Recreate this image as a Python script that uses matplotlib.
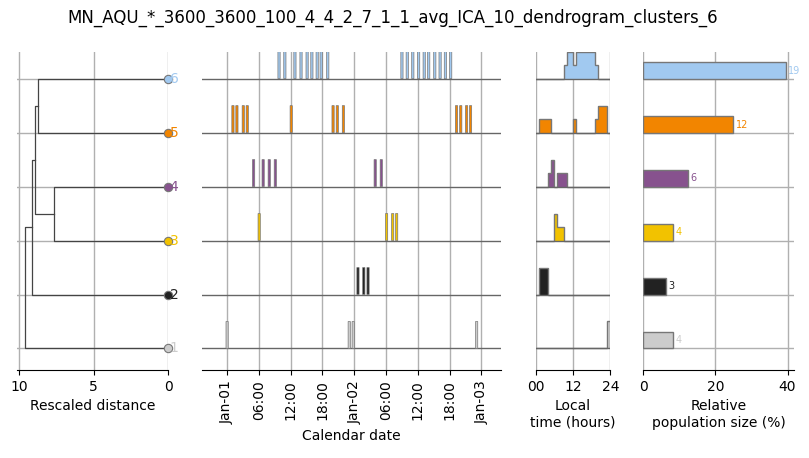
import numpy as np
import matplotlib
matplotlib.use("Agg")
import matplotlib.pyplot as plt

title = "MN_AQU_*_3600_3600_100_4_4_2_7_1_1_avg_ICA_10_dendrogram_clusters_6"

# clusters 1..6 (1 at the bottom)
clusters = [1, 2, 3, 4, 5, 6]
colors = ['#cccccc', '#222222', '#f2c200', '#87528e', '#f28500', '#a1c9f0']

# dendrogram merges, scipy-like: new nodes get ids 7, 8, ...
merges = [(6, 5, 8.72), (4, 3, 7.65), (7, 8, 8.93), (9, 2, 9.13), (10, 1, 9.6)]

# event times in hours after Jan-01 00:00, per cluster
events = {
    1: [0.0, 23.05, 23.8, 47.1],
    2: [24.7, 25.8, 26.6],
    3: [6.05, 30.1, 31.25, 32.0],
    4: [5.0, 6.8, 7.95, 9.1, 27.95, 29.1],
    5: [1.1, 1.85, 3.05, 3.8, 12.1, 20.0, 20.8, 21.95, 43.3, 44.1, 45.2, 45.95],
    6: [9.8, 10.9, 12.8, 13.95, 15.1, 16.0, 17.0, 17.75, 19.0,
        33.0, 34.0, 35.05, 36.15, 37.2, 38.05, 39.2, 40.2, 41.2, 42.2],
}
cal_ticks = [0, 6, 12, 18, 24, 30, 36, 42, 48]
cal_labels = ['Jan-01', '06:00', '12:00', '18:00', 'Jan-02', '06:00', '12:00', '18:00', 'Jan-03']

# local time: counts per hour bin (hour -> count)
local_counts = {
    1: {23: 4},
    2: {1: 1, 2: 1, 3: 1},
    3: {6: 2, 7: 1, 8: 1},
    4: {4: 1, 5: 2, 7: 1, 8: 1, 9: 1},
    5: {1: 1, 2: 1, 3: 1, 4: 1, 12: 1, 19: 1, 20: 2, 21: 2, 22: 2},
    6: {9: 1, 10: 2, 11: 2, 12: 1, 13: 2, 14: 2, 15: 2, 16: 2, 17: 2, 18: 2, 19: 1},
}

sizes = [4, 3, 4, 6, 12, 19]

grid_c = '#b0b0b0'
edge_c = '#777777'
base_c = '#666666'
ylim = (-0.4, 5.49)
rows = np.arange(len(clusters))

fig = plt.figure(figsize=(8.09, 4.58), dpi=100)
fig.text(0.486, 0.961, title, ha='center', va='center', fontsize=12)

bottom, height = 0.192, 0.694


def style(ax):
    for s in ['top', 'right', 'left']:
        ax.spines[s].set_visible(False)
    ax.set_ylim(*ylim)
    ax.set_yticks(rows)
    ax.set_yticklabels([])
    ax.tick_params(axis='y', length=0)
    ax.set_axisbelow(True)
    ax.grid(True, axis='x', color=grid_c, lw=1)


# --- dendrogram
ax1 = fig.add_axes([0.0215, bottom, 0.1863, height])
style(ax1)
ax1.grid(True, axis='y', color=grid_c, lw=1)
nodes = {c: (0.0, i) for i, c in enumerate(clusters)}
nid = len(clusters) + 1
for a, b, d in merges:
    xa, ya = nodes[a]
    xb, yb = nodes[b]
    ax1.plot([xa, d, d, xb], [ya, ya, yb, yb], color='#444444', lw=0.9)
    nodes[nid] = (d, (ya + yb) / 2)
    nid += 1
for i, c in enumerate(clusters):
    ax1.plot(0, i, 'o', ms=6, mfc=colors[i], mec=edge_c, mew=0.8, clip_on=False, zorder=5)
    ax1.text(-0.1, i, str(c), color=colors[i], fontsize=10, ha='left', va='center',
             zorder=6, clip_on=False)
ax1.set_xlim(10.13, 0)
ax1.set_xticks([10, 5, 0])
ax1.set_xlabel('Rescaled distance', fontsize=10)

# --- calendar
ax2 = fig.add_axes([0.2493, bottom, 0.370, height])
style(ax2)
for i, c in enumerate(clusters):
    ax2.axhline(i, color=base_c, lw=1)
    ax2.bar(events[c], 0.5, width=0.42, bottom=i, color=colors[i],
            edgecolor=edge_c, lw=0.5, zorder=3, snap=False)
ax2.set_xlim(-4.8, 51.7)
ax2.set_xticks(cal_ticks)
ax2.set_xticklabels(cal_labels, rotation=90)
ax2.set_xlabel('Calendar date', fontsize=10)

# --- local time
ax3 = fig.add_axes([0.6622, bottom, 0.0922, height])
style(ax3)
edges = np.arange(25)
for i, c in enumerate(clusters):
    h = np.zeros(24)
    for k, v in local_counts[c].items():
        h[k] = v
    h = h / h.max() * 0.5 + i
    ax3.stairs(h, edges, baseline=i, fill=True, color=colors[i], lw=0, zorder=3)
    ax3.stairs(h, edges, baseline=i, fill=False, color=edge_c, lw=1, zorder=4)
    ax3.axhline(i, color=base_c, lw=1, zorder=4)
ax3.set_xlim(0, 24)
ax3.set_xticks([0, 12, 24])
ax3.set_xticklabels(['00', '12', '24'])
ax3.set_xlabel('Local\ntime (hours)', fontsize=10)

# --- population size
ax4 = fig.add_axes([0.7952, bottom, 0.1863, height])
style(ax4)
ax4.grid(True, axis='y', color=grid_c, lw=1)
pct = np.array(sizes) / sum(sizes) * 100
ax4.barh(rows, pct, height=0.3, align='edge', color=colors, edgecolor=edge_c, lw=1, zorder=3)
for i, (p, n) in enumerate(zip(pct, sizes)):
    ax4.text(p + 0.6, i + 0.15, str(n), color=colors[i], fontsize=7, va='center', ha='left')
ax4.set_xlim(0, 41.8)
ax4.set_xticks([0, 20, 40])
ax4.set_xlabel('Relative\npopulation size (%)', fontsize=10)

fig.savefig('out.png', dpi=100)
